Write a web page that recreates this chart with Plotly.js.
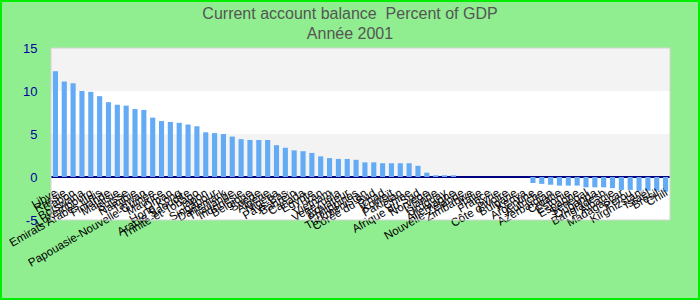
<!DOCTYPE html>
<html>
<head>
<meta charset="utf-8">
<script src="https://cdn.plot.ly/plotly-3.0.1.min.js"></script>
<style>
html,body{margin:0;padding:0;}
#wrap{position:relative;width:700px;height:300px;}
#chart{width:700px;height:300px;}
#frame{position:absolute;left:0;top:0;width:700px;height:300px;box-sizing:border-box;border:2px solid #00ee00;pointer-events:none;}
</style>
</head>
<body>
<div id="wrap"><div id="chart"></div><div id="frame"></div></div>
<script>
var countries = ["Libye","Russie","Gabon","Botswana","Luxembourg","Emirats Arabes Unis","Finlande","Malaisie","Suisse","Namibie",
"Taïwan","Papouasie-Nouvelle-Guinée","Maurice","Oman","Hong Kong","Arabie Saoudite","Trinité-et-Tobago","Japon","Singapour","Danemark",
"Thaïlande","Indonésie","Belgique","Suède","Algérie","Nigéria","Pays-Bas","Bahreïn","Canada","Egypte",
"Iran","Vietnam","Venezuela","Equateur","Philippines","Turkménistan","Corée du Sud","Tchad","Koweït","Pakistan",
"Chine","Afrique du Sud","Norvège","Islande","Uruguay","Allemagne","Nouvelle-Zélande","Zimbabwe","Italie","France",
"Syrie","Côte d'Ivoire","Bulgarie","Kenya","Argentine","Autriche","Azerbaïdjan","Croatie","Estonie","Espagne",
"Sénégal","Ouganda","Bangladesh","Albanie","Madagascar","Pérou","Kirghizstan","Israël","Brésil","Chili"];
var values = [12.3,11.1,10.9,10.0,9.9,9.4,8.7,8.4,8.3,7.9,
7.8,6.9,6.5,6.4,6.3,6.1,5.9,5.2,5.1,5.0,
4.7,4.4,4.3,4.3,4.3,3.7,3.4,3.1,3.0,2.8,
2.4,2.2,2.1,2.1,2.0,1.7,1.7,1.6,1.6,1.6,
1.6,1.3,0.5,0.2,0.2,0.2,0,0,0,0,
0,0,0,0,-0.7,-0.8,-0.9,-1.0,-1.0,-1.0,
-1.2,-1.2,-1.2,-1.3,-1.5,-1.5,-1.6,-1.6,-1.6,-1.7];
var yTicks = [-5,0,5,10,15];
var titleText = "Current account balance  Percent of GDP<br>Année 2001";

var trace = {type:'bar', x:countries, y:values, marker:{color:'#63abf5'}, hoverinfo:'x+y'};
var bands = [[0,5],[10,15]].map(function(b){
  return {type:'rect', xref:'paper', yref:'y', x0:0, x1:1, y0:b[0], y1:b[1], fillcolor:'#f3f3f3', line:{width:0}, layer:'below'};
});
bands.push({type:'rect', xref:'paper', yref:'paper', x0:0, x1:1, y0:0, y1:1, line:{color:'#d4d4d4', width:1}, fillcolor:'rgba(0,0,0,0)'});

var layout = {
  width:700, height:300,
  paper_bgcolor:'#90ee90', plot_bgcolor:'#ffffff',
  margin:{l:51, r:30, t:48, b:80},
  font:{family:'Liberation Sans, Arial, sans-serif'},
  title:{text:titleText, font:{size:16, color:'#555555'}, x:0.5, xref:'container', yref:'container', y:0.938, yanchor:'middle', automargin:false},
  bargap:0.42,
  showlegend:false,
  xaxis:{type:'category', range:[-0.5, countries.length-0.5], anchor:'free', position:0.25,
         tickmode:'linear', tick0:0, dtick:1,
         tickangle:-30, tickfont:{size:11.5, color:'#000000'}, showline:false, ticks:'outside', ticklen:4, tickcolor:'rgba(0,0,0,0)', showgrid:false, automargin:false},
  yaxis:{range:[-5,15], tickvals:yTicks, ticktext:yTicks.map(String), showgrid:false,
         zeroline:true, zerolinecolor:'#000080', zerolinewidth:1.5,
         ticks:'outside', ticklen:10, tickcolor:'rgba(0,0,0,0)',
         tickfont:{size:13, color:'#0000a0'}, showline:false, automargin:false},
  shapes:bands
};
Plotly.newPlot('chart',[trace],layout,{displayModeBar:false, staticPlot:true});
</script>
</body>
</html>
